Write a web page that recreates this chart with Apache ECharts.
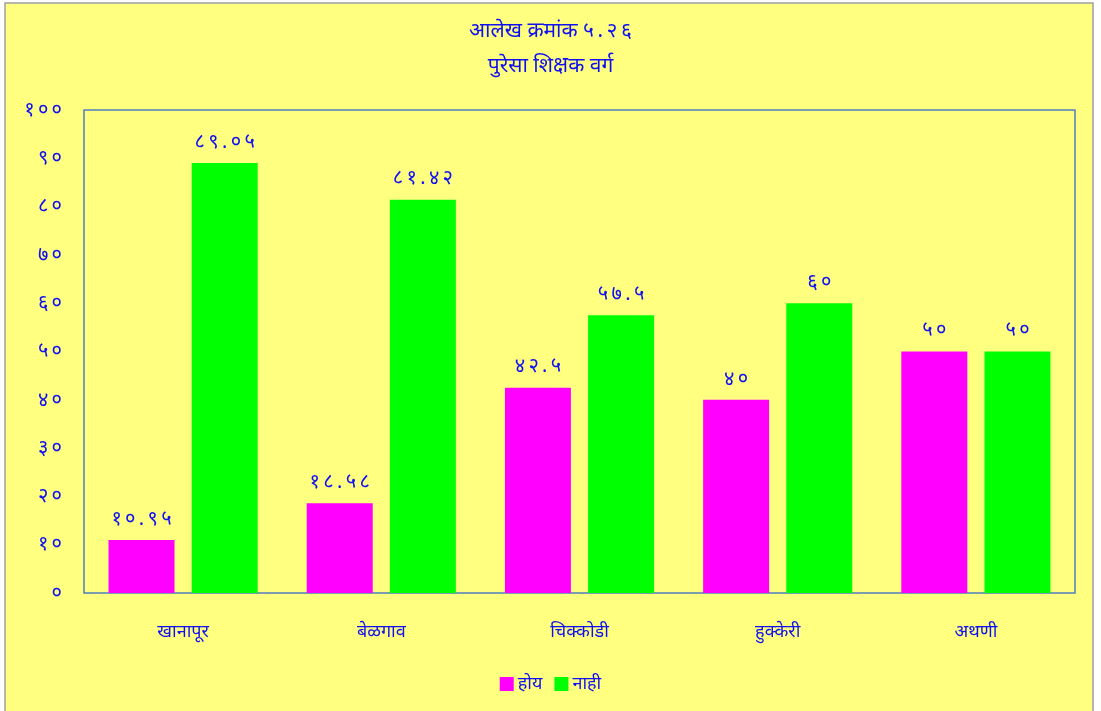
<!DOCTYPE html>
<html>
<head>
<meta charset="utf-8">
<script src="https://cdn.jsdelivr.net/npm/echarts@6/dist/echarts.min.js"></script>
<style>
  html, body { margin: 0; padding: 0; background: #fff; }
  #chart { width: 1101px; height: 711px; }
</style>
</head>
<body>
<div id="chart"></div>
<script>
// data
const categories = ['खानापूर', 'बेळगाव', 'चिक्कोडी', 'हुक्केरी', 'अथणी'];
const hoy = [10.95, 18.58, 42.5, 40, 50];
const nahi = [89.05, 81.42, 57.5, 60, 50];
const seriesNames = ['होय', 'नाही'];
const titleText = 'आलेख क्रमांक ५.२६';
const subTitleText = 'पुरेसा शिक्षक वर्ग';

const devDigits = '०१२३४५६७८९';
// devanagari digits, spread out a little like the original
function toDev(v) {
    return String(v).replace(/\d/g, d => devDigits[d]).split('').join('\u2009');
}
function spreadNumber(s) {
    return s.replace(/[०-९.]+$/, m => m.split('').join('\u2009'));
}

const font = '"Noto Sans", sans-serif';
const blue = '#1010f0';

let chart = echarts.init(document.getElementById('chart'), null, { renderer: 'canvas' });

chart.setOption({
    animation: false,
    backgroundColor: '#ffffff',
    textStyle: { fontFamily: font },
    graphic: [{
        type: 'rect',
        silent: true,
        z: -10,
        shape: { x: 5, y: 3, width: 1088, height: 720 },
        style: { fill: '#ffff80', stroke: '#a0a0a0', lineWidth: 1.5 }
    }],
    title: {
        text: spreadNumber(titleText),
        subtext: subTitleText,
        left: 'center',
        top: 16,
        itemGap: 14,
        textStyle: { color: blue, fontSize: 21, fontWeight: 'normal', fontFamily: font },
        subtextStyle: { color: blue, fontSize: 21, fontFamily: font }
    },
    legend: {
        bottom: 13,
        left: 'center',
        itemWidth: 14,
        itemHeight: 14,
        itemGap: 12,
        icon: 'rect',
        textStyle: { color: blue, fontSize: 18, fontFamily: font, padding: [0, 0, 0, -1] },
        data: seriesNames
    },
    grid: {
        show: true,
        left: 84,
        right: 26,
        top: 110,
        bottom: 118,
        borderColor: '#4f7fbd',
        borderWidth: 1.5,
        backgroundColor: 'transparent'
    },
    xAxis: {
        type: 'category',
        data: categories,
        axisLine: { show: false },
        axisTick: { show: false },
        axisLabel: { color: blue, fontSize: 18, margin: 30, fontFamily: font }
    },
    yAxis: {
        type: 'value',
        min: 0,
        max: 100,
        interval: 10,
        splitLine: { show: false },
        axisLine: { show: false },
        axisTick: { show: false },
        axisLabel: {
            color: blue, fontSize: 20, margin: 22, fontFamily: font,
            formatter: v => toDev(v)
        }
    },
    series: [{
        name: seriesNames[0],
        type: 'bar',
        data: hoy,
        barWidth: 66,
        barGap: '26%',
        itemStyle: { color: '#ff00ff' },
        label: {
            show: true, position: 'top', distance: 11,
            color: blue, fontSize: 20, fontFamily: font,
            formatter: p => toDev(p.value)
        }
    }, {
        name: seriesNames[1],
        type: 'bar',
        data: nahi,
        barWidth: 66,
        itemStyle: { color: '#00ff00' },
        label: {
            show: true, position: 'top', distance: 11,
            color: blue, fontSize: 20, fontFamily: font,
            formatter: p => toDev(p.value)
        }
    }]
});
</script>
</body>
</html>
